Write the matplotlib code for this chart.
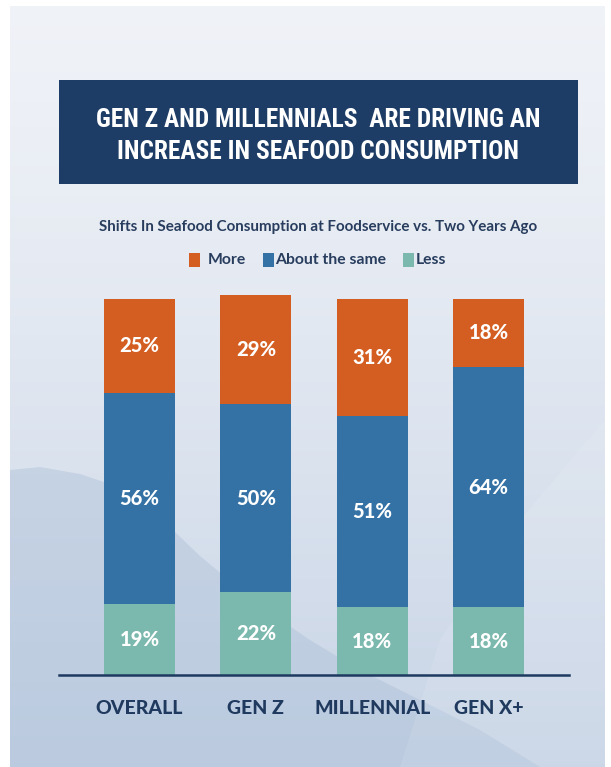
"""
Seafood consumption shifts by generation: stacked 100% bars
"""
import matplotlib
matplotlib.use('Agg')
import matplotlib.pyplot as plt
from matplotlib.patches import Rectangle, Polygon
import numpy as np

W, H = 611, 767

categories = ["OVERALL", "GEN Z", "MILLENNIAL", "GEN X+"]
series_names = ["More", "About the same", "Less"]
more = [25, 29, 31, 18]
same = [56, 50, 51, 64]
less = [19, 22, 18, 18]

title = "GEN Z AND MILLENNIALS  ARE DRIVING AN\nINCREASE IN SEAFOOD CONSUMPTION"
subtitle = "Shifts In Seafood Consumption at Foodservice vs. Two Years Ago"

ORANGE = '#d45e22'
BLUE = '#3471a4'
TEAL = '#7bb8ad'
NAVY = '#1e3d66'
TEXT_NAVY = '#1f3a5e'
colors = [ORANGE, BLUE, TEAL]


def fx(x):
    return x / W


def fy(y):
    return 1 - y / H


fig = plt.figure(figsize=(W / 100, H / 100), dpi=100)
fig.patch.set_facecolor('white')

# sky-like backdrop with a soft ridge on the lower left
bg = fig.add_axes([fx(10), 0, fx(W - 16), fy(6)])
bg.set_axis_off()
bg.set_xlim(10, W - 6)
bg.set_ylim(H, 6)
t = np.linspace(0, 1, 300)[:, None]
top = np.array([0.94, 0.95, 0.97])
bottom = np.array([0.78, 0.83, 0.90])
grad = top + (bottom - top) * t[..., None] ** 1.3
grad = np.repeat(grad, 2, axis=1)
bg.imshow(grad, extent=[10, W - 6, H, 6], aspect='auto', zorder=0)
ridge = [(10, 470), (40, 467), (80, 474), (110, 484), (150, 508), (200, 556),
         (260, 606), (310, 640), (360, 670), (420, 700), (480, 730), (540, 767),
         (10, 767)]
bg.add_patch(Polygon(ridge, closed=True, facecolor='#a9bdd6', alpha=0.4,
                     edgecolor='none', zorder=1))
light = [(W - 6, 420), (520, 520), (440, 640), (400, 767), (W - 6, 767)]
bg.add_patch(Polygon(light, closed=True, facecolor='white', alpha=0.1,
                     edgecolor='none', zorder=1))

# title banner
fig.patches.append(Rectangle((fx(59), fy(184)), fx(578 - 59), (184 - 80) / H,
                             transform=fig.transFigure, facecolor=NAVY,
                             edgecolor='none', zorder=2))
fig.text(fx(318), fy(136), title, ha='center', va='center', color='white',
         fontsize=18.3, fontweight='heavy', linespacing=1.42,
         family=['Roboto Condensed', 'Lato'], zorder=3)

fig.text(fx(318), fy(227), subtitle, ha='center', va='center', color='#283d5e',
         fontsize=10.9, fontweight='bold', family='Lato')

# legend row
legend_items = [(189, 208), (263, 275), (403, 416)]
for (sx, tx), name, c in zip(legend_items, series_names, colors):
    fig.patches.append(Rectangle((fx(sx), fy(267)), fx(11), 14 / H,
                                 transform=fig.transFigure, facecolor=c,
                                 edgecolor='none'))
    fig.text(fx(tx), fy(260), name, ha='left', va='center', color='#283d5e',
             fontsize=11.3, fontweight='bold', family='Lato')

# stacked bars
ax = fig.add_axes([fx(59), (H - 675) / H, fx(510), 376 / H])
ax.set_facecolor('none')
x = np.arange(len(categories))
width = 0.61
b1 = ax.bar(x, less, width, color=TEAL, zorder=2)
b2 = ax.bar(x, same, width, bottom=less, color=BLUE, zorder=2)
base3 = np.array(less) + np.array(same)
b3 = ax.bar(x, more, width, bottom=base3, color=ORANGE, zorder=2)
for bars in (b1, b2, b3):
    for r in bars:
        r.set_clip_on(False)

for vals, bottoms in ((less, np.zeros(4)), (same, np.array(less)), (more, base3)):
    for xi, v, b0 in zip(x, vals, bottoms):
        ax.text(xi, b0 + v / 2, f'{v}%', ha='center', va='center', color='white',
                fontsize=14.5, fontweight='black', family='Lato', zorder=3)

ax.set_xlim(-0.692, 3.692)
ax.set_ylim(0, 100)
for s in ('top', 'right', 'left'):
    ax.spines[s].set_visible(False)
ax.spines['bottom'].set_color('#1e3a60')
ax.spines['bottom'].set_linewidth(1.8)
ax.set_yticks([])
ax.set_xticks(x)
ax.set_xticklabels(categories, fontsize=14, fontweight='black', family='Lato',
                   color=TEXT_NAVY)
ax.tick_params(axis='x', length=0, pad=18)

plt.savefig('out.png', dpi=100)
plt.close()
